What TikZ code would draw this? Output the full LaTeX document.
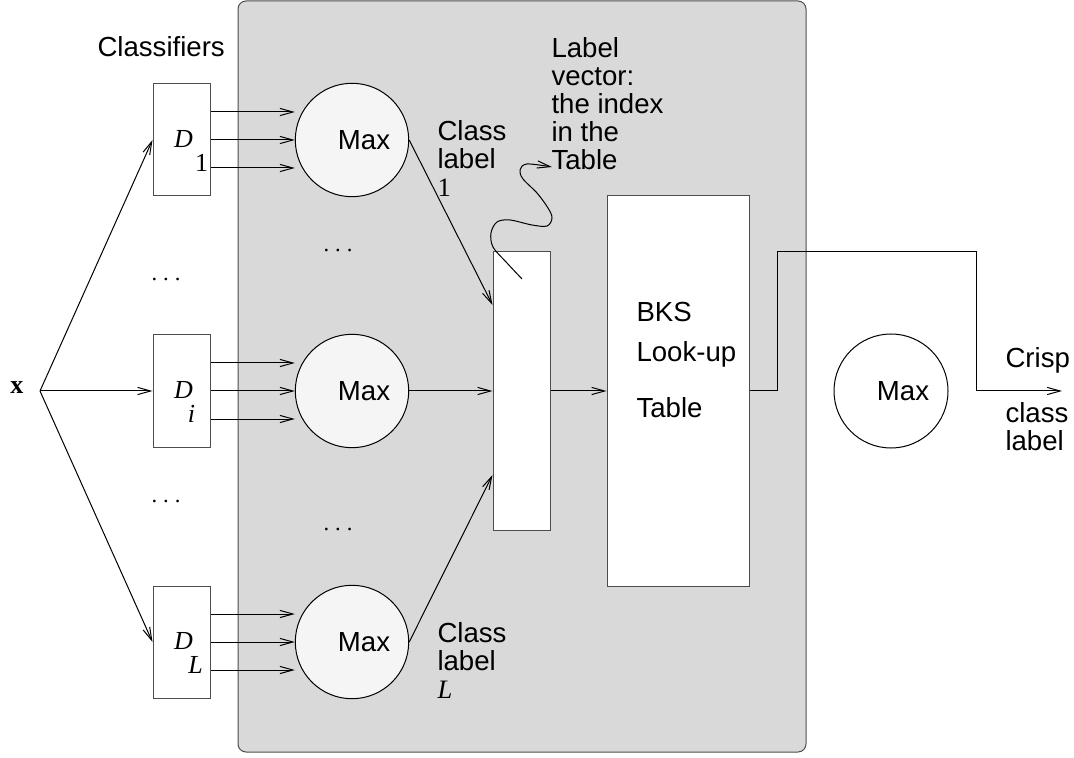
\documentclass[tikz,border=0pt]{standalone}
\usepackage{fontspec}
\setmainfont{Liberation Sans}
\newfontfamily\tms{Liberation Serif}
\usetikzlibrary{arrows.meta,calc,positioning}
\definecolor{panel}{HTML}{D9D9D9}
\definecolor{edge}{HTML}{4D4D4D}
\definecolor{maxfill}{HTML}{F5F5F5}
\tikzset{
  arr/.style={-{Straight Barb[length=6.5pt,width=3.6pt]},line width=0.5pt},
  clf/.style={draw=edge,fill=white,minimum width=28.5pt,minimum height=56pt,inner sep=0pt},
  maxc/.style={circle,draw=black,fill=maxfill,minimum size=56.7pt,inner sep=0pt,font=\fontsize{13.8}{14}\selectfont},
  txt/.style={font=\fontsize{13.8}{14}\selectfont,inner sep=0pt,align=left},
  sym/.style={font=\tms\fontsize{11.3}{12}\selectfont,inner sep=0pt},
  dlbl/.style={font=\tms\itshape\fontsize{13}{14}\selectfont,inner sep=0pt},
}
\newcommand{\spdots}{.\hspace{3pt}.\hspace{3pt}.}
\begin{document}
\begin{tikzpicture}[x=0.5pt,y=-0.5pt,line width=0.5pt]
\useasboundingbox (0,0) rectangle (1074,758);
% combiner panel
\draw[draw=edge,fill=panel,rounded corners=4pt] (238,1) rectangle (806,752);

\node[txt,anchor=base west] (clsf) at (97,57) {Classifiers};
\node[font=\tms\bfseries\fontsize{13}{14}\selectfont,inner sep=0pt] (xin) at (17,388) {x};
\coordinate (fork) at (40,391);

% classifiers and their Max nodes
\foreach \k/\yc/\sx/\sub in {1/140/20/{\upshape 1},i/391/10/i,L/642/14/L}{
  \node[clf] (d\k) at (181.5,\yc) {};
  \node[dlbl] (dn\k) at ($(d\k)+(2,-1)$) {D};
  \node[dlbl] (ds\k) at ($(d\k)+(\sx,23)$) {\sub};
  \node[maxc] (m\k) at (352,\yc) {\hspace*{12pt}Max};
  \draw[arr] (fork) -- (d\k.west);
  \foreach \dy in {-28,0,28}
    \draw[arr] ($(d\k.east)+(0,\dy)$) -- ($(m\k.west)+(0,\dy)$);
}
\node[sym] (dots1) at (166,279) {\spdots};
\node[sym] (dots2) at (166,501) {\spdots};
\node[sym] (dots3) at (338,250) {\spdots};
\node[sym] (dots4) at (338,529) {\spdots};

% label vector and table
\node[draw=edge,fill=white,minimum width=28.5pt,minimum height=139pt,inner sep=0pt] (vec) at (521.5,391) {};
\node[draw=edge,fill=white,minimum width=71pt,minimum height=195pt,inner sep=0pt] (bks) at (678,391) {};
\node[txt,anchor=base west] (bks1) at (636,322) {BKS};
\node[txt,anchor=base west] (bks2) at (636,362) {Look-up};
\node[txt,anchor=base west] (bks3) at (636,417) {Table};

\draw[arr] (m1.east) -- ($(vec.west)+(0,-86)$);
\draw[arr] (mi.east) -- (vec.west);
\draw[arr] (mL.east) -- ($(vec.west)+(0,84)$);
\draw[arr] (vec.east) -- (bks.west);

\node[txt,anchor=north west] (cl1) at (437,120) {Class\\label\\{\tms\fontsize{13.3}{14}\selectfont 1}};
\node[txt,anchor=north west] (clL) at (437,622) {Class\\label\\{\tms\itshape\fontsize{13.3}{14}\selectfont L}};
\node[txt,anchor=north west] (lvec) at (551,37) {Label\\vector:\\the index\\in the\\Table};

\coordinate (wv0) at (522,279);
\coordinate (wv1) at (552,167);
\draw[arr] plot[smooth,tension=0.55] coordinates {(wv0) (507,263) (493,247) (491,233) (497,222) (510,220) (532,225) (547,226) (552,218) (548,208) (537,193) (523,179) (520,170) (527,164) (wv1)};

% output
\node[circle,draw=black,minimum size=57pt,inner sep=0pt,font=\fontsize{13.8}{14}\selectfont] (mout) at (891,391) {\hspace*{12pt}Max};
\coordinate (o1) at (777,252);
\coordinate (o2) at (976,252);
\coordinate (oend) at (1062,391);
\draw[arr] (bks.east) -| (o1) -- (o2) |- (oend);
\node[txt,anchor=base west] (crisp) at (1005,368) {Crisp};
\node[txt,anchor=north west] (ccl) at (1005,402) {class\\label};
\end{tikzpicture}
\end{document}
